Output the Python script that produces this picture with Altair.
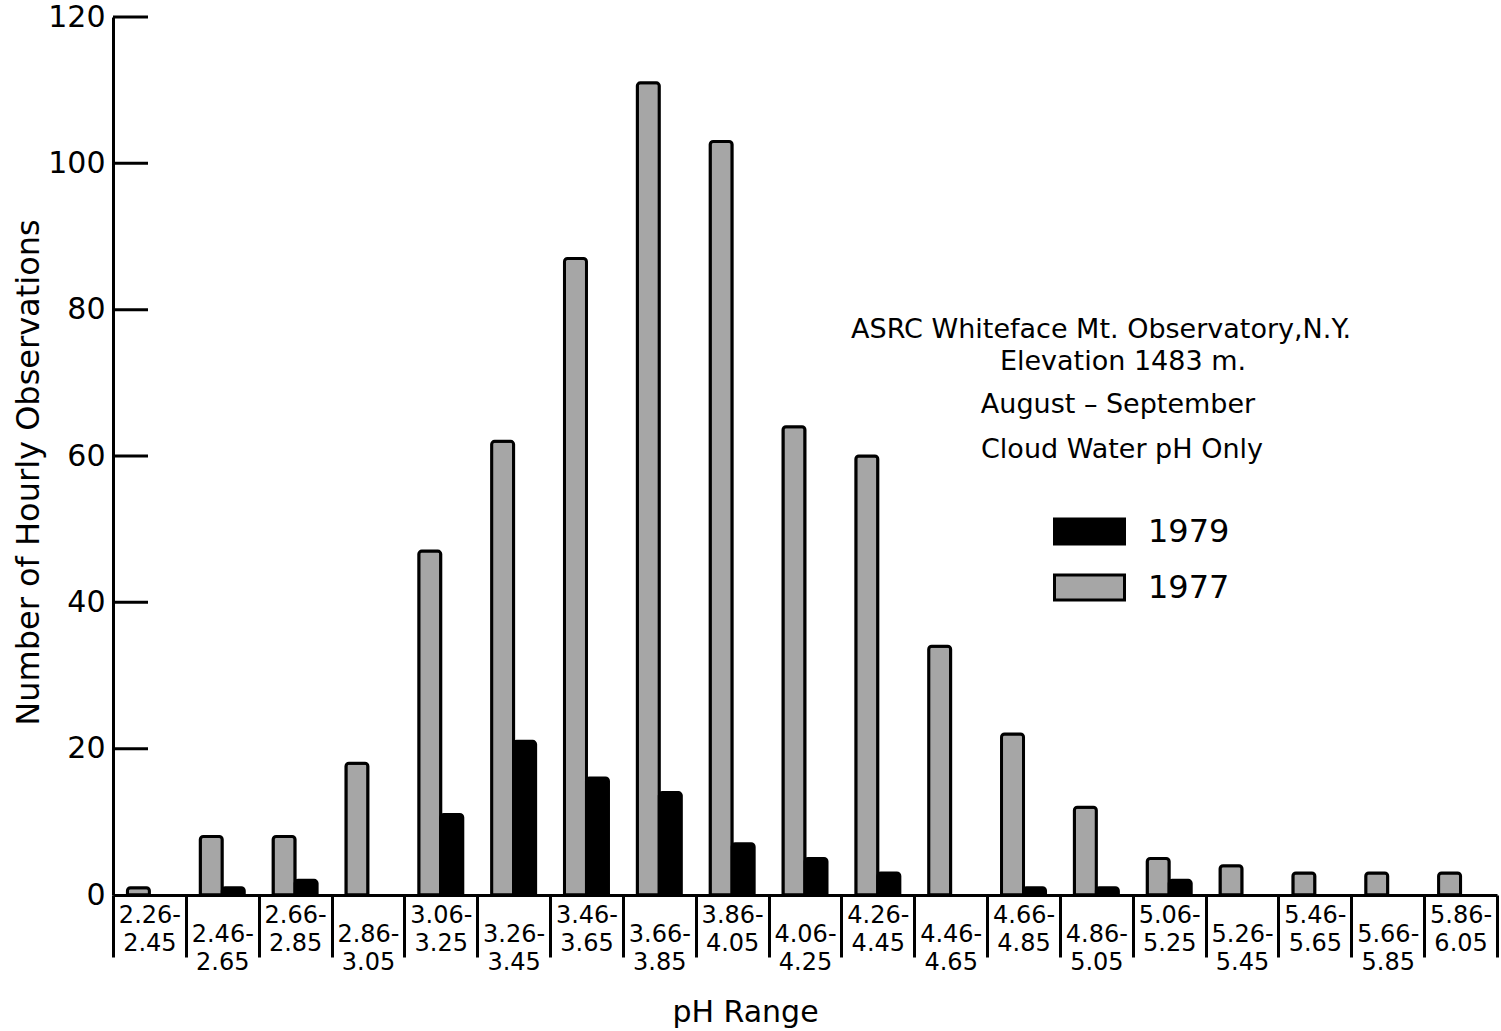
import altair as alt
import pandas as pd

# pH class intervals (bottom-left to right)
ph_ranges = [
    "2.26-2.45", "2.46-2.65", "2.66-2.85", "2.86-3.05", "3.06-3.25",
    "3.26-3.45", "3.46-3.65", "3.66-3.85", "3.86-4.05", "4.06-4.25",
    "4.26-4.45", "4.46-4.65", "4.66-4.85", "4.86-5.05", "5.06-5.25",
    "5.26-5.45", "5.46-5.65", "5.66-5.85", "5.86-6.05",
]
# number of hourly cloud-water observations per pH class
obs_1977 = [1, 8, 8, 18, 47, 62, 87, 111, 103, 64, 60, 34, 22, 12, 5, 4, 3, 3, 3]
obs_1979 = [0, 1, 2, 0, 11, 21, 16, 14, 7, 5, 3, 0, 1, 1, 2, 0, 0, 0, 0]
y_ticks = [0, 20, 40, 60, 80, 100, 120]

info_lines = [
    "ASRC Whiteface Mt. Observatory,N.Y.",
    "Elevation 1483 m.",
    "August \u2013 September",
    "Cloud Water pH Only",
]

rows = []
for r, a, b in zip(ph_ranges, obs_1977, obs_1979):
    rows.append({"range": r, "year": "1977", "obs": a})
    rows.append({"range": r, "year": "1979", "obs": b})
df = pd.DataFrame(rows)

FONT = "DejaVu Sans"
W, H = 1384, 878

lower_labels = "[" + ",".join("'%s'" % r for r in ph_ranges[1::2]) + "]"

y_scale = alt.Scale(domain=[0, 120], nice=False, zero=True)
y_axis = alt.Axis(
    values=y_ticks,
    title="Number of Hourly Observations",
    titleFont=FONT, titleFontSize=32, titleFontWeight="normal", titleColor="black",
    titleAngle=270, titleAlign="center", titleBaseline="middle",
    titleX=-85, titleY=455,
    ticks=False, grid=False,
    labelFont=FONT, labelFontSize=30, labelColor="black", labelPadding=8,
    domainColor="black", domainWidth=3,
)

x_axis = alt.Axis(
    title="pH Range",
    titleFont=FONT, titleFontSize=30, titleFontWeight="normal", titleColor="black",
    titleAlign="center", titleBaseline="middle", titleX=632, titleY=117,
    labelExpr="[slice(datum.label, 0, 5), slice(datum.label, 5)]",
    labelAngle=0, labelFont=FONT, labelFontSize=24, labelColor="black",
    labelLineHeight=28, labelBaseline="top",
    labelPadding={"condition": {"test": "indexof(%s, datum.value) >= 0" % lower_labels,
                                "value": -35},
                  "value": -54},
    tickBand="extent", tickSize=62, tickWidth=3, tickColor="black",
    domainColor="black", domainWidth=3, grid=False,
)

bars = alt.Chart(df).transform_filter("datum.obs > 0").mark_bar(
    stroke="black", strokeWidth=3,
    cornerRadiusTopLeft=3, cornerRadiusTopRight=3,
).encode(
    x=alt.X("range:N", sort=ph_ranges,
            scale=alt.Scale(paddingInner=0, paddingOuter=0), axis=x_axis),
    xOffset=alt.XOffset("year:N", sort=["1977", "1979"],
                        scale=alt.Scale(paddingInner=0, paddingOuter=0.655)),
    y=alt.Y("obs:Q", scale=y_scale, axis=y_axis),
    color=alt.Color(
        "year:N",
        scale=alt.Scale(domain=["1979", "1977"], range=["#000000", "#a6a6a6"]),
        legend=alt.Legend(
            title=None, orient="none", legendX=940, legendY=478,
            symbolType="M-1,-0.36H1V0.36H-1Z", symbolSize=4900,
            symbolStrokeColor="black", symbolStrokeWidth=3,
            labelFont=FONT, labelFontSize=32, labelColor="black", labelOffset=22,
            padding=0, rowPadding=-30,
        ),
    ),
)

# inward tick marks on the value axis
tick_rules = alt.Chart(pd.DataFrame({"v": y_ticks[1:]})).mark_rule(
    color="black", strokeWidth=3
).encode(
    y=alt.Y("v:Q", scale=y_scale, axis=y_axis),
    x=alt.value(0),
    x2=alt.value(35),
)

# station / period caption
caption_pos = [(988, 313), (1010, 345), (1005, 388), (1009, 433)]
captions = []
for line, (cx, cy) in zip(info_lines, caption_pos):
    captions.append(
        alt.Chart(pd.DataFrame({"t": [line]})).mark_text(
            font=FONT, fontSize=27, color="black", align="center", baseline="middle"
        ).encode(text="t:N", x=alt.value(cx), y=alt.value(cy))
    )

chart = alt.layer(bars, tick_rules, *captions).properties(
    width=W, height=H,
    autosize=alt.AutoSizeParams(type="none"),
    padding={"left": 113, "top": 17, "right": 4, "bottom": 136},
    background="white",
).configure_view(stroke=None)

chart.save("out.html", embed_options={"renderer": "svg", "actions": False})
